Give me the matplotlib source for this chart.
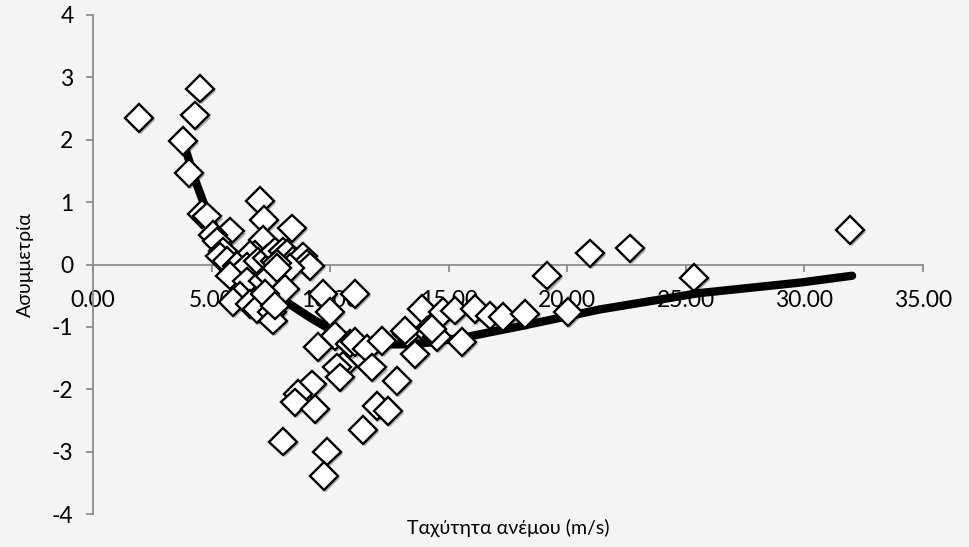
import matplotlib
matplotlib.use("Agg")
import matplotlib.pyplot as plt
import matplotlib.patheffects as pe

# Scatter data: wind speed (m/s) vs skewness
wind_speed = [1.94, 4.51, 4.30, 3.80, 4.05, 4.60, 4.81, 5.78, 5.06, 5.23,
              5.48, 5.36, 5.65, 7.04, 7.21, 8.39, 7.17, 6.83, 6.62, 6.07,
              6.50, 6.96, 7.34, 7.68, 7.68, 8.01, 8.18, 8.44, 8.86, 9.03,
              9.15, 8.31, 7.76, 5.78, 6.50, 7.17, 7.47, 8.10, 7.76, 6.20,
              5.90, 6.62, 6.92, 7.25, 7.55, 7.59, 7.68, 9.70, 11.05, 10.00,
              10.21, 9.49, 10.84, 11.05, 11.56, 12.19, 11.77, 10.54, 10.29, 10.42,
              12.82, 13.24, 13.58, 13.88, 14.09, 14.51, 14.30, 13.16, 9.24, 8.65,
              8.52, 9.36, 11.98, 12.44, 11.39, 8.01, 9.87, 9.74, 14.76, 15.27,
              16.11, 16.74, 17.29, 15.56, 18.22, 19.15, 20.03, 20.96, 22.65, 25.35,
              31.93]
skewness = [2.35, 2.82, 2.39, 1.98, 1.47, 0.81, 0.77, 0.53, 0.47, 0.37,
            0.21, 0.13, 0.06, 1.02, 0.71, 0.58, 0.39, 0.15, 0.15, -0.02,
            -0.03, 0.05, 0.10, 0.06, 0.21, 0.21, 0.18, 0.06, 0.13, 0.02,
            -0.03, -0.06, 0.02, -0.18, -0.27, -0.26, -0.19, -0.39, -0.06, -0.50,
            -0.60, -0.63, -0.71, -0.47, -0.76, -0.90, -0.66, -0.47, -0.47, -0.76,
            -1.15, -1.32, -1.27, -1.24, -1.35, -1.23, -1.65, -1.63, -1.65, -1.81,
            -1.87, -1.11, -1.44, -0.71, -1.06, -1.16, -1.03, -1.06, -1.92, -2.08,
            -2.21, -2.32, -2.27, -2.35, -2.65, -2.84, -3.00, -3.39, -0.76, -0.74,
            -0.71, -0.82, -0.84, -1.24, -0.79, -0.18, -0.76, 0.18, 0.26, -0.21,
            0.55]

# Trend line
trend_x = [3.88, 4.30, 4.72, 5.15, 5.78, 6.62, 7.47, 8.31, 9.15, 10.00,
           10.84, 11.68, 12.53, 13.37, 14.21, 15.90, 18.01, 21.38, 25.53, 29.82, 32.01]
trend_y = [1.875, 1.36, 0.93, 0.59, 0.24, -0.11, -0.40, -0.64, -0.85, -1.04,
           -1.17, -1.25, -1.28, -1.28, -1.25, -1.15, -0.99, -0.72, -0.46, -0.29, -0.18]

x_ticks = [0, 5, 10, 15, 20, 25, 30, 35]
y_ticks = [-4, -3, -2, -1, 0, 1, 2, 3, 4]

bg = "#f4f4f4"
axis_col = "#8c8c8c"
plt.rcParams["font.family"] = ["Lato", "DejaVu Sans"]

fig = plt.figure(figsize=(9.69, 5.47), dpi=100, facecolor=bg)
ax = fig.add_axes([0.096, 0.0603, 0.8565, 0.9123], facecolor=bg)

ax.plot(trend_x, trend_y, color="black", linewidth=6, solid_capstyle="round", zorder=2)
ax.plot(wind_speed, skewness, linestyle="none", marker="D", markersize=14,
        markerfacecolor="white", markeredgecolor="black", markeredgewidth=1.7,
        zorder=3,
        path_effects=[pe.SimplePatchShadow(offset=(1.5, -1.5), shadow_rgbFace="black", alpha=0.3),
                      pe.Normal()])

ax.set_xlim(0, 35)
ax.set_ylim(-4, 4)
ax.set_xticks(x_ticks)
ax.set_xticklabels([f"{t:.2f}" for t in x_ticks])
ax.set_yticks(y_ticks)
ax.set_yticklabels([str(t) for t in y_ticks])

ax.spines["top"].set_visible(False)
ax.spines["right"].set_visible(False)
ax.spines["bottom"].set_position(("data", 0))
for s in ["left", "bottom"]:
    ax.spines[s].set_color(axis_col)
    ax.spines[s].set_linewidth(1.3)

ax.tick_params(axis="x", direction="out", length=5, width=1.3, color=axis_col,
               pad=13, labelsize=16.5)
ax.tick_params(axis="y", direction="out", length=5, width=1.3, color=axis_col,
               pad=9, labelsize=16.5)

ax.set_xlabel("Ταχύτητα ανέμου (m/s)", fontsize=14)
ax.xaxis.label.set_va("center")
ax.xaxis.set_label_coords(0.5, -0.028)
ax.set_ylabel("Ασυμμετρία", fontsize=14)
ax.yaxis.label.set_va("center")
ax.yaxis.set_label_coords(-0.082, 0.5)

plt.savefig("out.png", dpi=100, facecolor=bg)
